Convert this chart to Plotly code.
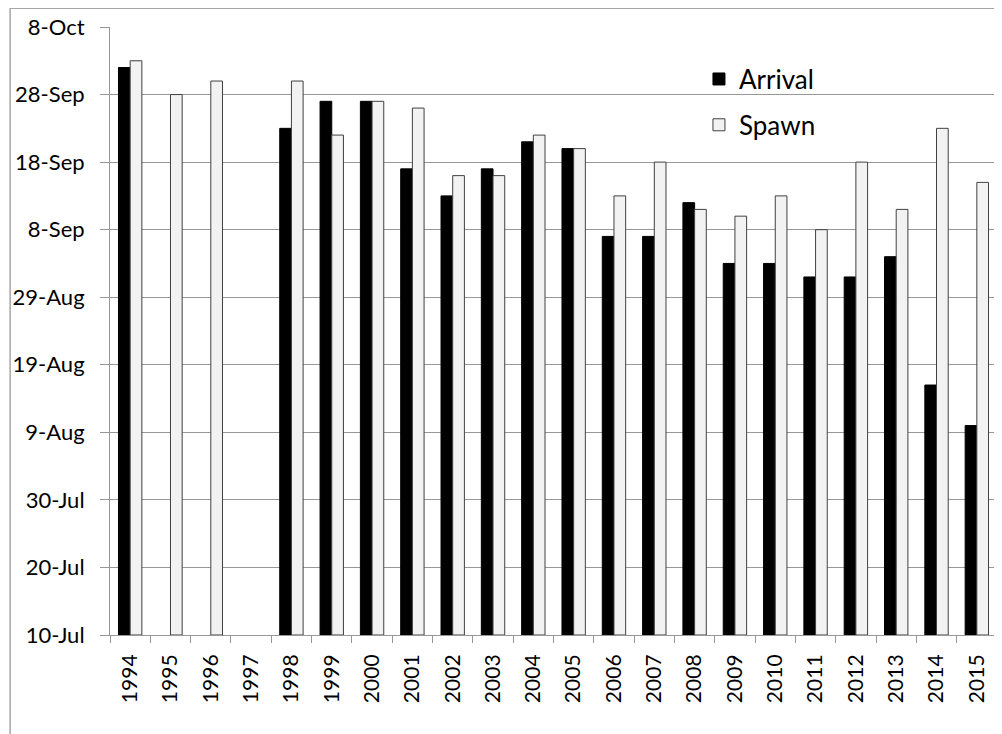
import plotly.graph_objects as go
from datetime import datetime

# Data
years = ['1994', '1995', '1996', '1997', '1998', '1999', '2000', '2001', '2002', '2003', '2004',
         '2005', '2006', '2007', '2008', '2009', '2010', '2011', '2012', '2013', '2014', '2015']
arrival = ['2-Oct', None, None, None, '23-Sep', '27-Sep', '27-Sep', '17-Sep', '13-Sep', '17-Sep', '21-Sep',
           '20-Sep', '7-Sep', '7-Sep', '12-Sep', '3-Sep', '3-Sep', '1-Sep', '1-Sep', '4-Sep', '16-Aug', '10-Aug']
spawn = ['3-Oct', '28-Sep', '30-Sep', None, '30-Sep', '22-Sep', '27-Sep', '26-Sep', '16-Sep', '16-Sep', '22-Sep',
         '20-Sep', '13-Sep', '18-Sep', '11-Sep', '10-Sep', '13-Sep', '8-Sep', '18-Sep', '11-Sep', '23-Sep', '15-Sep']
tick_labels = ['10-Jul', '20-Jul', '30-Jul', '9-Aug', '19-Aug', '29-Aug', '8-Sep', '18-Sep', '28-Sep', '8-Oct']

BASE = '10-Jul'


def to_days(s):
    """days after 10-Jul (same non-leap year)"""
    if s is None:
        return None
    d = datetime.strptime(s + '-2001', '%d-%b-%Y')
    return (d - datetime.strptime(BASE + '-2001', '%d-%b-%Y')).days


arrival_days = [to_days(s) for s in arrival]
spawn_days = [to_days(s) for s in spawn]
tick_days = [to_days(s) for s in tick_labels]

FONT = 'Lato, Carlito, Calibri, sans-serif'
GRID = '#979797'

fig = go.Figure()

fig.add_trace(go.Bar(
    x=years, y=arrival_days, name='Arrival', legendgroup='a',
    marker=dict(color='#000000', line=dict(color='#000000', width=1))
))
fig.add_trace(go.Bar(
    x=years, y=spawn_days, name='Spawn', legendgroup='s',
    marker=dict(color='#f2f2f2', line=dict(color='#404040', width=1))
))

# light border round the chart area (page already sits 8px in)
fig.add_shape(type='rect', xref='paper', yref='paper',
              x0=-0.1126, x1=1.2, y0=-0.5, y1=1.031,
              line=dict(color='#a6a6a6', width=1.5), layer='below')

fig.update_layout(
    width=994, height=726,
    margin=dict(l=100, r=5, t=19, b=99),
    paper_bgcolor='white', plot_bgcolor='white',
    barmode='group', bargap=0.42, bargroupgap=0,
    font=dict(family=FONT, color='black'),
    showlegend=True,
    legend=dict(
        x=0.664, y=0.953, xanchor='left', yanchor='top',
        font=dict(size=26, family=FONT),
        tracegroupgap=9, bgcolor='rgba(0,0,0,0)',
        traceorder='grouped'
    ),
)

fig.update_xaxes(
    type='category', tickangle=-90,
    tickfont=dict(size=21),
    showline=True, linecolor=GRID, linewidth=1,
    ticks='outside', tickson='boundaries', ticklen=7, tickcolor=GRID,
    ticklabelstandoff=10,
    showgrid=False
)

fig.update_yaxes(
    range=[0, 90],
    tickvals=tick_days, ticktext=tick_labels,
    tickfont=dict(size=22),
    showline=True, linecolor=GRID, linewidth=1,
    ticks='outside', ticklen=9, tickcolor=GRID,
    ticklabelstandoff=11,
    showgrid=True, gridcolor=GRID, gridwidth=1,
    zeroline=False
)

fig.write_html('out.html')
